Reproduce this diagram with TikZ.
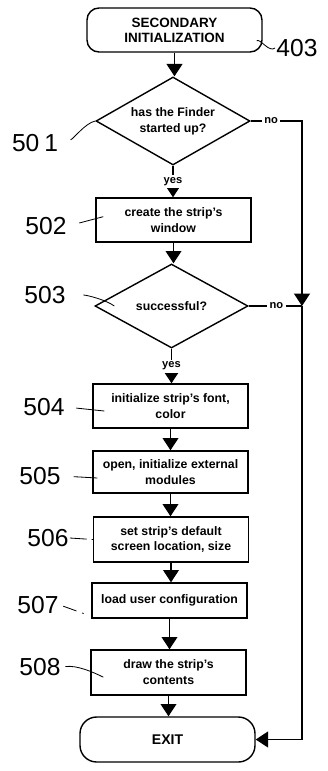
\documentclass[tikz,border=0pt]{standalone}
\usepackage{fontspec}
\setmainfont{Liberation Sans}
\usetikzlibrary{positioning, calc, shapes.geometric, arrows.meta}

\begin{document}
\begin{tikzpicture}[x=0.03cm, y=-0.03cm,
    term/.style={draw, line width=1.2pt, rounded corners=0.36cm, align=center,
      minimum width=5.25cm, font=\fontsize{11.5}{13}\selectfont\bfseries},
    stepbox/.style={draw, line width=1.2pt, minimum width=4.65cm, inner sep=1pt,
      align=center, font=\fontsize{10.5}{13.5}\selectfont\bfseries},
    test/.style={draw, shape=diamond, aspect=1.75, line width=1.2pt, inner sep=0pt,
      align=center, font=\fontsize{10.5}{13.5}\selectfont\bfseries},
    flow/.style={line width=1.1pt, -{Triangle[width=13.5pt,length=10.5pt]}},
    answer/.style={fill=white, inner sep=2pt, font=\fontsize{9.5}{9.5}\selectfont\bfseries},
    refnum/.style={inner sep=1pt, font=\fontsize{21}{21}\selectfont},
    leader/.style={line width=0.7pt, shorten <=3pt}]
      \useasboundingbox (0,0) rectangle (327,771);
      %% Flow chart blocks
      \node[term, minimum height=1.32cm] (start) at (174.5,30) {SECONDARY\\INITIALIZATION};
      \node[test, minimum width=4.62cm, minimum height=2.64cm] (finder) at (173,121) {has the Finder\\started up?};
      \node[stepbox, minimum height=1.32cm] (window) at (173.5,220) {create the strip's\\window};
      \node[test, minimum width=4.59cm, minimum height=2.52cm] (success) at (171.5,306) {successful?};
      \node[stepbox, minimum height=1.32cm] (fontcol) at (170.5,406) {initialize strip's font,\\color};
      \node[stepbox, minimum height=1.26cm] (modules) at (170.5,472) {open, initialize external\\modules};
      \node[stepbox, minimum height=1.35cm] (location) at (171,539.5) {set strip's default\\screen location, size};
      \node[stepbox, minimum height=1.05cm] (config) at (169.5,600.5) {load user configuration};
      \node[stepbox, minimum height=1.35cm] (contents) at (168.5,672.5) {draw the strip's\\contents};
      \node[term, rounded corners=0.5cm, minimum height=1.35cm, font=\fontsize{12}{12}\selectfont\bfseries] (exit) at (167.5,739.5) {EXIT};
      %% Main path
      \draw[flow] (start.south) -- (start.south |- finder.north);
      \draw[flow] (finder.south) -- node[answer] (yes1) {yes} (finder.south |- window.north);
      \draw[flow] (window.south) -- (window.south |- success.north);
      \draw[flow] (success.south) -- node[answer] (yes2) {yes} (success.south |- fontcol.north);
      \draw[flow] (fontcol.south) -- (fontcol.south |- modules.north);
      \draw[flow] (modules.south) -- (modules.south |- location.north);
      \draw[flow] (location.south) -- (location.south |- config.north);
      \draw[flow] (config.south) -- (config.south |- contents.north);
      \draw[flow] (contents.south) -- (contents.south |- exit.north);
      %% "no" branches down the right side
      \coordinate (rail) at (302,0);
      \draw[flow] (finder.east) -- node[answer, pos=0.4] (no1) {no} (finder.east -| rail)
                  -- (success.east -| rail);
      \draw[line width=1.1pt] (success.east) -- node[answer, pos=0.52] (no2) {no} (success.east -| rail);
      \draw[flow] (success.east -| rail) -- (exit.east -| rail) -- (exit.east);
      %% Reference numerals
      \node[refnum] (n403) at (297,48) {403};
      \node[refnum] (n501) at (35,143) {50\hspace{0.2em}1};
      \node[refnum] (n502) at (46,226) {502};
      \node[refnum] (n503) at (45,295) {503};
      \node[refnum] (n504) at (44,407) {504};
      \node[refnum] (n505) at (40,476) {505};
      \node[refnum] (n506) at (48,538) {506};
      \node[refnum] (n507) at (38,605) {507};
      \node[refnum] (n508) at (40,667) {508};
      \coordinate (t403) at (254,43);
      \draw[leader] (t403) .. controls +(6,-5) and +(-6,5) .. (n403.west);
      \draw[leader, shorten <=10pt] (n501.east) .. controls +(14,-4) and +(-10,2) .. (finder.west);
      \draw[leader, shorten <=10pt] (n502.east) -- ([shift={(0.24cm,0.1cm)}]window.west);
      \draw[leader, shorten <=14pt] (n503.east) .. controls +(20,0) and +(-8,-6) .. ([xshift=0.6cm]success.west);
      \draw[leader, shorten <=9pt] (n504.east) -- ([shift={(0.36cm,-0.15cm)}]fontcol.west);
      \draw[leader, shorten <=10pt] (n505.east) -- ([shift={(0.15cm,-0.18cm)}]modules.west);
      \draw[leader, shorten <=0pt, dash pattern=on 0.5cm off 0.15cm on 0.05cm off 1cm] (n506.east) -- (location.west);
      \draw[leader, dash pattern=on 0.42cm off 0.18cm on 0.05cm off 1cm] (n507.east) -- ([shift={(-0.12cm,-0.43cm)}]config.west);
      \draw[leader] (n508.east) .. controls +(15,-2) and +(-10,-5) .. ([shift={(0.39cm,-0.14cm)}]contents.west);
    \end{tikzpicture}
\end{document}
